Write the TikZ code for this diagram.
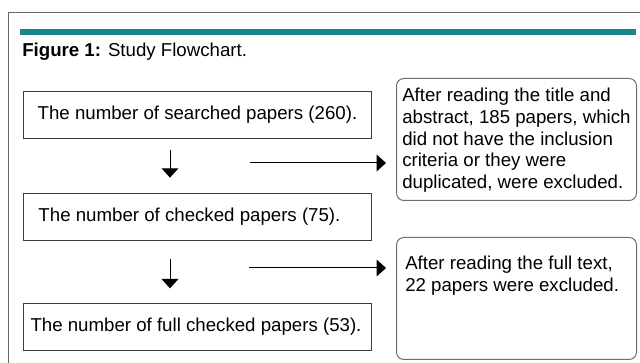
\documentclass[tikz,border=0pt]{standalone}
\usepackage{fontspec}
\setmainfont{Liberation Sans}
\usetikzlibrary{arrows.meta}
\definecolor{tealbar}{RGB}{22,134,140}
\definecolor{framegray}{RGB}{105,105,105}
\definecolor{boxgray}{RGB}{60,60,60}
\definecolor{rboxgray}{RGB}{110,110,110}
\begin{document}
\begin{tikzpicture}[x=0.75pt,y=-0.75pt,
  font=\fontsize{14pt}{16.3pt}\selectfont,
  sqbox/.style={draw=boxgray, line width=0.75pt, inner ysep=0pt, minimum width=261pt, minimum height=35.5pt},
  rbox/.style={draw=rboxgray, line width=0.75pt, rounded corners=5.5pt, minimum width=180pt, minimum height=91.5pt, inner sep=0pt},
  txt/.style={inner sep=0pt, align=left, anchor=north west},
  arr/.style={-{Triangle[width=12.5pt,length=7pt]}, line width=0.75pt}]
\useasboundingbox (0,0) rectangle (640,363);
% frame
\coordinate (ftr) at (640,13);
\coordinate (ftl) at (8,13);
\coordinate (fbl) at (8,363);
\draw[framegray, line width=0.75pt] (ftr) -- (ftl) -- (fbl);
% teal bar
\coordinate (tb1) at (20,32);
\coordinate (tb2) at (636,32);
\draw[tealbar, line width=3.8pt] (tb1) -- (tb2);
% caption
\node[anchor=base west, inner sep=0pt] (cap) at (22,57) {\textbf{Figure 1:} Study Flowchart.};
% left boxes
\node[sqbox, anchor=north west, inner xsep=0pt] (b1) at (23,91) {The number of searched papers (260).};
\node[sqbox, anchor=north west, inner xsep=11.25pt] (b2) at (23,193) {\makebox[238.5pt][l]{The number of checked papers (75).}};
\node[sqbox, anchor=north west, inner xsep=5.25pt] (b3) at (23,303) {\makebox[250.5pt][l]{The number of full checked papers (53).}};
% right boxes
\node[rbox, anchor=north west] (r1) at (396,78) {};
\node[txt] (t1) at (402,88) {After reading the title and\\abstract, 185 papers, which\\did not have the inclusion\\criteria or they were\\duplicated, were excluded.};
\node[rbox, anchor=north west] (r2) at (396,237) {};
\node[txt] (t2) at (405,256) {After reading the full text,\\22 papers were excluded.};
% vertical arrows
\coordinate (dx) at (170,0);
\draw[arr, shorten <=8.25pt, shorten >=11.5pt] (dx |- b1.south) -- (dx |- b2.north);
\draw[arr, shorten <=13.5pt, shorten >=11pt] (dx |- b2.south) -- (dx |- b3.north);
% horizontal arrows
\coordinate (h1) at (250,163);
\coordinate (h2) at (249,268);
\draw[arr, shorten >=7.5pt] (h1) -- (h1 -| r1.west);
\draw[arr, shorten >=7.5pt] (h2) -- (h2 -| r2.west);
\end{tikzpicture}
\end{document}
